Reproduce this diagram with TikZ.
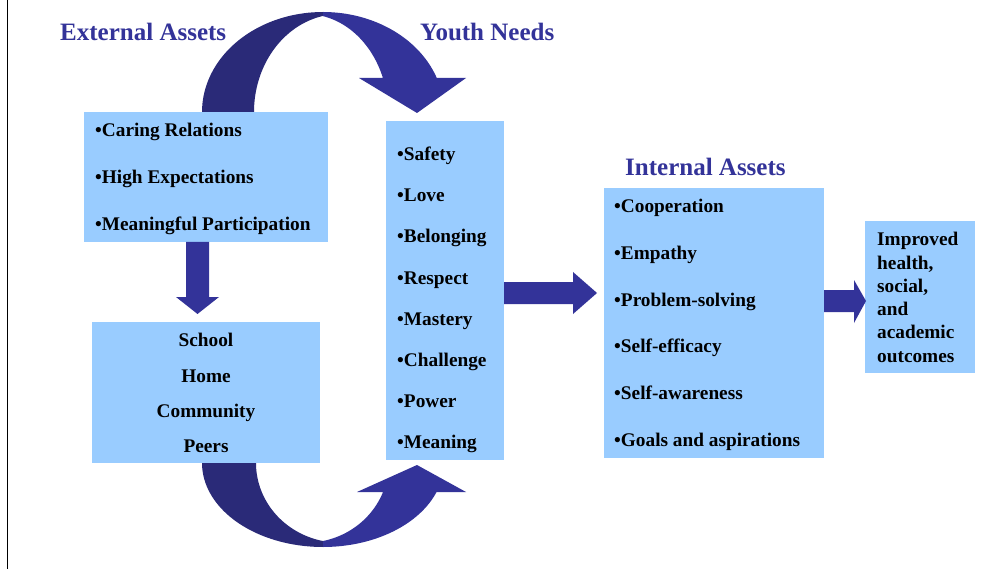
\documentclass[tikz,border=0pt]{standalone}
\usepackage{fontspec}
\setmainfont{Liberation Serif}
\definecolor{boxblue}{HTML}{99CCFF}
\definecolor{navy}{HTML}{333399}
\definecolor{darknavy}{HTML}{2A2A78}
\begin{document}
\begin{tikzpicture}[x=1pt,y=-1pt,
  box/.style={fill=boxblue,draw=none,inner sep=0pt,outer sep=0pt,anchor=north west,rectangle},
  item/.style={font=\fontsize{19.3}{23.3}\selectfont\bfseries,text=black,inner sep=0pt,anchor=base west},
  citem/.style={item,anchor=base},
  head/.style={font=\fontsize{25}{30}\selectfont\bfseries,text=navy,inner sep=0pt,anchor=base west},
  blockarrow/.style={fill=navy,draw=none}]
\useasboundingbox (0,0) rectangle (1006,569);
\fill[white] (0,0) rectangle (1006,569);
\draw[line width=1.3pt,black] (7.5,0) -- (7.5,569);

% headings
\node[head] (hext) at (60,41) {External Assets};
\node[head] (hyouth) at (420,41) {Youth Needs};
\node[head] (hint) at (625,176) {Internal Assets};

% boxes
\node[box,minimum width=244pt,minimum height=130pt] (ext) at (84,112) {};
\node[box,minimum width=228pt,minimum height=141pt] (ctx) at (92,322) {};
\node[box,minimum width=118pt,minimum height=339pt] (needs) at (386,121) {};
\node[box,minimum width=220pt,minimum height=270pt] (inta) at (604,188) {};
\node[box,minimum width=110pt,minimum height=152pt] (outc) at (865,221) {};

% box texts
\node[item] (e1) at (95,137) {•Caring Relations};
\node[item] (e2) at (95,184) {•High Expectations};
\node[item] (e3) at (95,230.5) {•Meaningful Participation};

\node[citem] (c1) at (206,346.5) {School};
\node[citem] (c2) at (206,382) {Home};
\node[citem] (c3) at (206,417) {Community};
\node[citem] (c4) at (206,452) {Peers};

\node[item] (n1) at (397,161) {•Safety};
\node[item] (n2) at (397,202) {•Love};
\node[item] (n3) at (397,243) {•Belonging};
\node[item] (n4) at (397,284) {•Respect};
\node[item] (n5) at (397,325) {•Mastery};
\node[item] (n6) at (397,366) {•Challenge};
\node[item] (n7) at (397,407) {•Power};
\node[item] (n8) at (397,448) {•Meaning};

\node[item] (i1) at (614,213) {•Cooperation};
\node[item] (i2) at (614,259.5) {•Empathy};
\node[item] (i3) at (614,306) {•Problem-solving};
\node[item] (i4) at (614,352.5) {•Self-efficacy};
\node[item] (i5) at (614,399) {•Self-awareness};
\node[item] (i6) at (614,446) {•Goals and aspirations};

\node[item] (o1) at (877,246) {Improved};
\node[item] (o2) at (877,269.2) {health,};
\node[item] (o3) at (877,292.4) {social,};
\node[item] (o4) at (877,315.6) {and};
\node[item] (o5) at (877,338.8) {academic};
\node[item] (o6) at (877,362) {outcomes};

% straight block arrows
\fill[blockarrow] (186,242) -- (209,242) -- (209,297) -- (219,297) -- (197.5,314)
  -- (176,297) -- (186,297) -- cycle;
\fill[blockarrow] (504,282) -- (573,282) -- (573,272) -- (597,293) -- (573,314)
  -- (573,304) -- (504,304) -- cycle;
\fill[blockarrow] (824,290) -- (854,290) -- (854,280) -- (866,301) -- (854,323)
  -- (854,312) -- (824,312) -- cycle;

% top curved arrow
\fill[darknavy] plot[domain=180:90,samples=40,variable=\t] ({323+121*cos(\t)},{112-100*sin(\t)})
  -- plot[domain=101.4:180,samples=40,variable=\t] ({340+86*cos(\t)},{112-98*sin(\t)}) -- cycle;
\fill[navy] plot[domain=90:19.9,samples=40,variable=\t] ({323+121*cos(\t)},{112-100*sin(\t)})
  -- (466,78) -- (417,113) -- (359,78) -- (383,78)
  -- plot[domain=20.1:78,samples=40,variable=\t] ({306+82*cos(\t)},{112-98*sin(\t)}) -- cycle;

% bottom curved arrow
\fill[darknavy] plot[domain=180:90,samples=40,variable=\t] ({323+121*cos(\t)},{463+84*sin(\t)})
  -- plot[domain=101.7:180,samples=40,variable=\t] ({340+84*cos(\t)},{463+79.7*sin(\t)}) -- cycle;
\fill[navy] plot[domain=90:20.2,samples=40,variable=\t] ({323+121*cos(\t)},{463+84*sin(\t)})
  -- (466,492) -- (417,465) -- (357,492) -- (383,492)
  -- plot[domain=21.4:78.1,samples=40,variable=\t] ({306+82.7*cos(\t)},{463+79.7*sin(\t)}) -- cycle;
\end{tikzpicture}
\end{document}
